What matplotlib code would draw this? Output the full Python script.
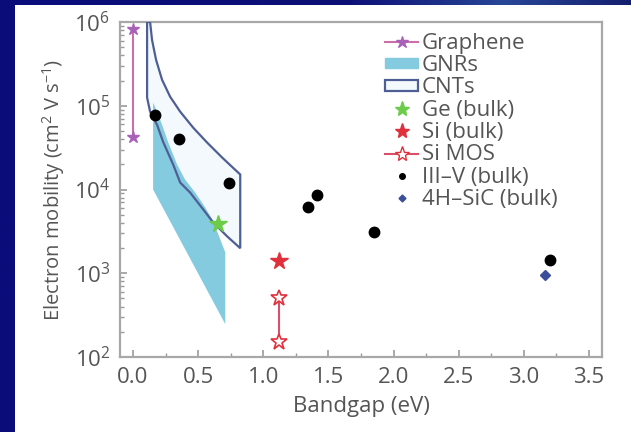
import numpy as np
import matplotlib
matplotlib.use('Agg')
import matplotlib.pyplot as plt
from matplotlib.patches import Polygon, Rectangle, Patch
from matplotlib.lines import Line2D
from matplotlib.ticker import MultipleLocator, LogLocator, NullFormatter

plt.rcParams['font.family'] = ['Open Sans', 'DejaVu Sans']
plt.rcParams['mathtext.fontset'] = 'custom'
plt.rcParams['mathtext.rm'] = 'Open Sans'
plt.rcParams['mathtext.it'] = 'Open Sans:italic'
plt.rcParams['mathtext.bf'] = 'Open Sans:bold'

# data
graphene_x = [0.0, 0.0]
graphene_y = [8.3e5, 4.2e4]

gnr_x = [0.154, 0.185, 0.223, 0.269, 0.338, 0.40, 0.477, 0.554, 0.615, 0.708, 0.708, 0.154]
gnr_y = [1.09e5, 8.5e4, 5.9e4, 3.7e4, 1.99e4, 1.31e4, 9.2e3, 6.1e3, 4.2e3, 1.78e3, 2.47e2, 1.0e4]

cnt_x = [0.108, 0.108, 0.131, 0.185, 0.231, 0.308, 0.362, 0.438, 0.538, 0.615, 0.723, 0.823,
         0.823, 0.685, 0.569, 0.462, 0.362, 0.285, 0.223, 0.177, 0.146, 0.131]
cnt_y = [1.0e6, 1.25e5, 8.5e4, 5.9e4, 3.7e4, 1.99e4, 1.21e4, 9.2e3, 5.8e3, 4.05e3, 2.75e3, 1.99e3,
         1.51e4, 2.4e4, 3.63e4, 5.47e4, 8.5e4, 1.28e5, 2.04e5, 3.53e5, 6.1e5, 1.0e6]

ge_x, ge_y = [0.65], [3.9e3]
si_x, si_y = [1.12], [1.39e3]
simos_x = [1.12, 1.12]
simos_y = [5.0e2, 1.5e2]

iiiv_x = [0.17, 0.354, 0.74, 1.34, 1.415, 1.85, 3.2]
iiiv_y = [7.8e4, 4.0e4, 1.2e4, 6.1e3, 8.7e3, 3.1e3, 1.43e3]

sic_x, sic_y = [3.16], [9.5e2]

xticks = [0.0, 0.5, 1.0, 1.5, 2.0, 2.5, 3.0, 3.5]
yticks = [1e2, 1e3, 1e4, 1e5, 1e6]
ytick_labels = [r'$\mathregular{10^{%d}}$' % e for e in [2, 3, 4, 5, 6]]

fig = plt.figure(figsize=(6.31, 4.32), dpi=100)

# slide background: navy with a lighter band on the top strip
bg = fig.add_axes([0, 0, 1, 1])
stops = np.array([[10, 12, 122], [12, 16, 118], [40, 70, 150], [20, 30, 110]]) / 255.0
pos = np.linspace(0, 1, 400)
grad = np.stack([np.interp(pos, [0, 0.55, 0.8, 1.0], stops[:, c]) for c in range(3)], axis=-1)
bg.imshow(grad[np.newaxis, :, :], aspect='auto', extent=[0, 1, 0, 1])
bg.add_patch(Rectangle((15 / 631, 0), 1, 1 - 5 / 432, facecolor='white', edgecolor='none'))
bg.set_xlim(0, 1)
bg.set_ylim(0, 1)
bg.axis('off')

ax = fig.add_axes([120 / 631, 1 - 357 / 432, 482 / 631, 335 / 432])
ax.set_facecolor('none')
ax.set_yscale('log')

cnt_color = '#4f5f95'
gnr_color = '#84cbe0'
ax.add_patch(Polygon(list(zip(cnt_x, cnt_y)), closed=True,
                     facecolor='#f3f9fc', edgecolor='none', zorder=1))
ax.add_patch(Polygon(list(zip(gnr_x, gnr_y)), closed=True,
                     facecolor=gnr_color, edgecolor='none', zorder=2))
ax.add_patch(Polygon(list(zip(cnt_x, cnt_y)), closed=True,
                     facecolor='none', edgecolor=cnt_color, linewidth=1.6, zorder=3))

ax.plot(graphene_x, graphene_y, color='#cc6fa8', linewidth=1.5, zorder=4)
ax.plot(graphene_x, graphene_y, linestyle='none', marker='*', markersize=9,
        color='#a860b8', zorder=5)
ax.plot(ge_x, ge_y, linestyle='none', marker='*', markersize=13, color='#6ccc4a', zorder=5)
ax.plot(si_x, si_y, linestyle='none', marker='*', markersize=13, color='#e0303c', zorder=5)
ax.plot(simos_x, simos_y, color='#d8506a', linewidth=1.5, zorder=4)
ax.plot(simos_x, simos_y, linestyle='none', marker='*', markersize=12,
        markerfacecolor='white', markeredgecolor='#e0303c', markeredgewidth=1.2, zorder=5)
ax.plot(iiiv_x, iiiv_y, linestyle='none', marker='o', markersize=7.5, color='black', zorder=5)
ax.plot(sic_x, sic_y, linestyle='none', marker='D', markersize=5, color='#3a4e9a', zorder=5)

ax.set_xlim(-0.1, 3.6)
ax.set_ylim(1e2, 1e6)
ax.set_xticks(xticks)
ax.set_xticklabels(['%.1f' % t for t in xticks])
ax.xaxis.set_minor_locator(MultipleLocator(0.25))
ax.set_yticks(yticks)
ax.set_yticklabels(ytick_labels)
ax.yaxis.set_minor_locator(LogLocator(base=10, subs=np.arange(2, 10)))
ax.yaxis.set_minor_formatter(NullFormatter())

for s in ax.spines.values():
    s.set_color('#a8a8a8')
    s.set_linewidth(1.6)
ax.tick_params(which='both', direction='in', color='#999999', labelcolor='#555555',
               labelsize=16, top=False, right=False)
ax.tick_params(which='major', length=5, width=1.2, pad=7)
ax.tick_params(which='minor', length=3, width=1.0)

ax.set_xlabel('Bandgap (eV)', fontsize=16, color='#555555', labelpad=6)
ax.set_ylabel(r'Electron mobility (cm$^{2}$ V s$^{-1}$)', fontsize=14.5, color='#555555', labelpad=5)

handles = [
    Line2D([], [], color='#cc6fa8', linewidth=1.5, marker='*', markersize=9,
           markerfacecolor='#a860b8', markeredgecolor='#a860b8'),
    Patch(facecolor=gnr_color, edgecolor=gnr_color),
    Patch(facecolor='#f3f9fc', edgecolor=cnt_color, linewidth=1.6),
    Line2D([], [], linestyle='none', marker='*', markersize=11, color='#6ccc4a'),
    Line2D([], [], linestyle='none', marker='*', markersize=11, color='#e0303c'),
    Line2D([], [], color='#d8506a', linewidth=1.5, marker='*', markersize=11,
           markerfacecolor='white', markeredgecolor='#e0303c'),
    Line2D([], [], linestyle='none', marker='o', markersize=4, color='black'),
    Line2D([], [], linestyle='none', marker='D', markersize=3.5, color='#3a4e9a'),
]
labels = ['Graphene', 'GNRs', 'CNTs', 'Ge (bulk)', 'Si (bulk)', 'Si MOS',
          'III\u2013V (bulk)', '4H\u2013SiC (bulk)']
leg = ax.legend(handles, labels, loc='upper left', bbox_to_anchor=(0.55, 0.968),
                frameon=False, fontsize=16, labelspacing=0.06, handlelength=1.5,
                handleheight=0.35, handletextpad=0.15, borderpad=0, borderaxespad=0)
for t in leg.get_texts():
    t.set_color('#555555')

fig.savefig('out.png', dpi=100)
